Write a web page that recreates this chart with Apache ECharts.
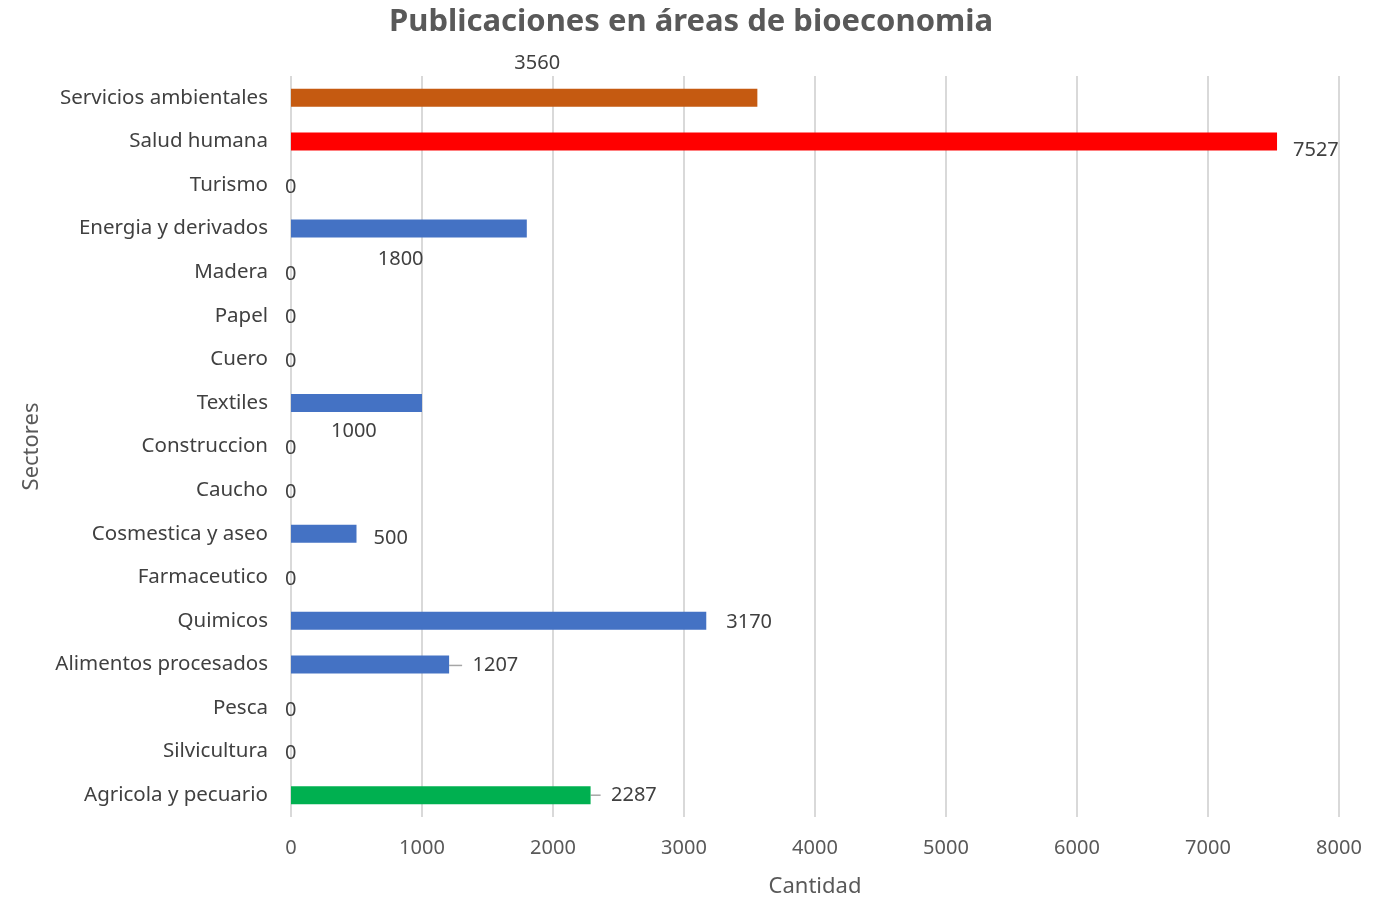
<!DOCTYPE html>
<html>
<head>
<meta charset="utf-8">
<script src="https://cdn.jsdelivr.net/npm/echarts@6/dist/echarts.min.js"></script>
<style>
  html, body { margin: 0; padding: 0; background: #fff; }
  #chart { width: 1383px; height: 900px; }
</style>
</head>
<body>
<div id="chart"></div>
<script>
// sectors, top to bottom as drawn
const sectors = [
  "Servicios ambientales", "Salud humana", "Turismo", "Energia y derivados",
  "Madera", "Papel", "Cuero", "Textiles", "Construccion", "Caucho",
  "Cosmestica y aseo", "Farmaceutico", "Quimicos", "Alimentos procesados",
  "Pesca", "Silvicultura", "Agricola y pecuario",
];
const counts = [3560, 7527, 0, 1800, 0, 0, 0, 1000, 0, 0, 500, 0, 3170, 1207, 0, 0, 2287];
const xTicks = [0, 1000, 2000, 3000, 4000, 5000, 6000, 7000, 8000];

// bar colours (Excel themed)
const barColors = {
  "Servicios ambientales": "#c55a11",
  "Salud humana": "#ff0000",
  "Agricola y pecuario": "#00b050",
};
const defaultColor = "#4472c4";

// labels were dragged around in the original, keep the nudges here
const labelShift = {
  "Servicios ambientales": [-248, -34],
  "Salud humana": [11, 9],
  "Energia y derivados": [-154, 31],
  "Textiles": [-96, 28],
  "Cosmestica y aseo": [12, 5],
  "Quimicos": [15, 1],
  "Alimentos procesados": [8, 1],
  "Agricola y pecuario": [5, 0],
};
const withLeader = ["Alimentos procesados", "Agricola y pecuario"];

const font = "'Noto Sans', sans-serif";
const textColor = "#404040";

const chart = echarts.init(document.getElementById("chart"));

const data = sectors.map((s, i) => ({
  value: counts[i],
  itemStyle: { color: barColors[s] || defaultColor },
  labelLine: { show: withLeader.includes(s) },
}));

chart.setOption({
  animation: false,
  title: {
    text: "Publicaciones en áreas de bioeconomia",
    left: 384,
    top: 2,
    textStyle: { fontFamily: font, fontSize: 31, fontWeight: "bold", color: "#595959" },
  },
  grid: { left: 291, right: 44, top: 76, bottom: 83, outerBoundsMode: "none" },
  xAxis: {
    type: "value",
    min: xTicks[0],
    max: xTicks[xTicks.length - 1],
    interval: 1000,
    name: "Cantidad",
    nameLocation: "middle",
    nameGap: 59,
    nameTextStyle: { fontFamily: font, fontSize: 22, color: "#595959" },
    axisLine: { show: false },
    axisTick: { show: false },
    axisLabel: {
      fontFamily: font, fontSize: 20, color: "#595959", margin: 21,
      formatter: (v) => String(v),
    },
    splitLine: { show: true, lineStyle: { color: "#d9d9d9", width: 2 } },
  },
  yAxis: {
    type: "category",
    inverse: true,
    data: sectors,
    name: "Sectores",
    nameLocation: "middle",
    nameGap: 248,
    nameTextStyle: { fontFamily: font, fontSize: 22, color: "#595959" },
    axisLine: { show: false },
    axisTick: { show: false },
    axisLabel: { fontFamily: font, fontSize: 20.5, color: textColor, margin: 23 },
  },
  series: [
    {
      type: "bar",
      data,
      barWidth: 18,
      label: {
        show: true,
        position: "right",
        distance: 5,
        fontFamily: font,
        fontSize: 20,
        color: textColor,
        // leader-lined labels sit a little away from their line
        formatter: (p) => (withLeader.includes(p.name) ? "  " : "") + p.value,
      },
      labelLine: { show: false, lineStyle: { color: "#a6a6a6", width: 1.5 } },
      labelLayout: (p) => {
        const s = sectors[p.dataIndex];
        if (labelShift[s]) return { dx: labelShift[s][0], dy: labelShift[s][1] };
        return { dx: -11, dy: 2 };
      },
    },
  ],
});
</script>
</body>
</html>
